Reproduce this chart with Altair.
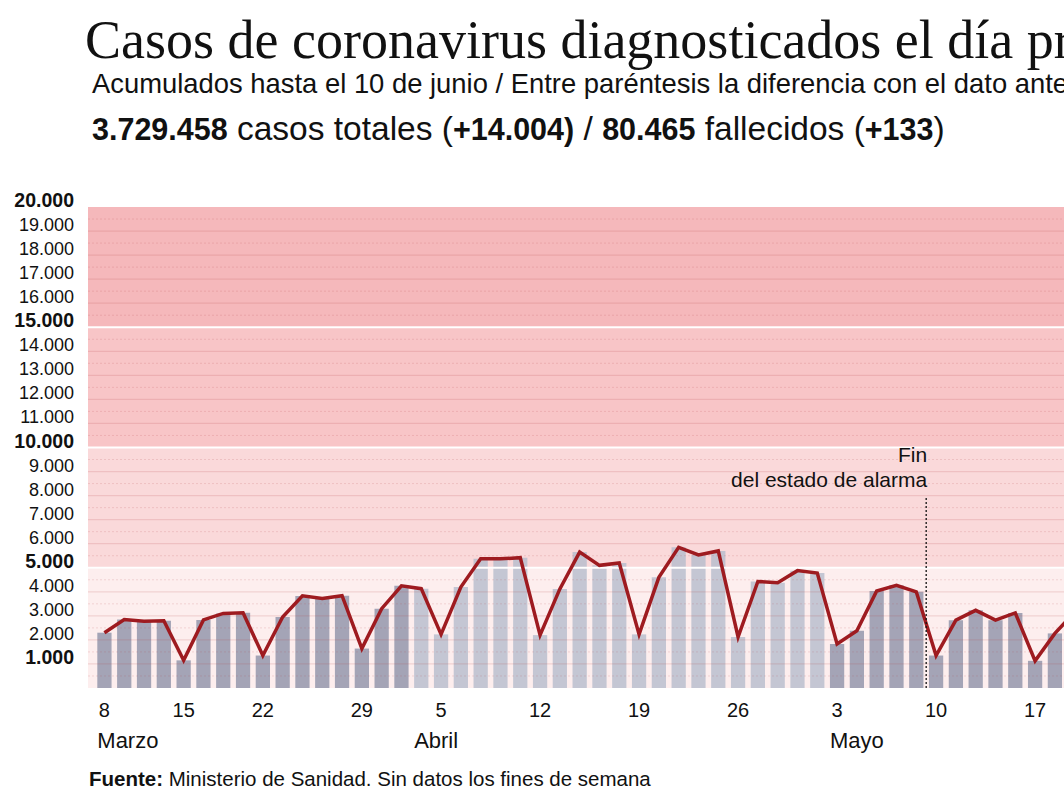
import altair as alt
import pandas as pd

# ---------------- data ----------------
days = [8, 9, 10, 11, 15, 16, 17, 18, 22, 23, 24, 25, 26, 29, 30, 31,
        1, 5, 6, 7, 8, 9, 12, 13, 14, 15, 16, 19, 20, 21, 22, 23, 26, 27, 28, 29, 30,
        3, 4, 5, 6, 7, 10, 11, 12, 13, 14, 17, 18, 19]
months = ["Marzo"] * 16 + ["Abril"] * 21 + ["Mayo"] * 13
casos = [2300, 2850, 2780, 2800, 1150, 2830, 3100, 3130, 1350, 2950, 3830, 3720, 3840, 1640, 3300, 4250,
         4130, 2230, 4200, 5370, 5370, 5420, 2200, 4120, 5650, 5100, 5200, 2230, 4600, 5850, 5530, 5700,
         2120, 4430, 4380, 4880, 4780,
         1830, 2380, 4030, 4270, 4000, 1350, 2820, 3230, 2820, 3120, 1130, 2270, 3150]

y_labels = list(range(1000, 20001, 1000))
y_bold = [1000, 5000, 10000, 15000, 20000]
band_lims = [0, 5000, 10000, 15000, 20000]
band_colors = ["#fdeeee", "#fad9da", "#f8c5c7", "#f5b8bb"]

title = "Casos de coronavirus diagnosticados el día previo"
subtitle = "Acumulados hasta el 10 de junio / Entre paréntesis la diferencia con el dato anterior"
resumen = [("3.729.458", True), (" casos totales (", False), ("+14.004)", True), (" / ", False),
           ("80.465", True), (" fallecidos (", False), ("+133", True), (")", False)]
fuente = [("Fuente:", True), (" Ministerio de Sanidad. Sin datos los fines de semana", False)]
anot_fin = ["Fin", "del estado de alarma"]

# ---------------- derived tables ----------------
month_num = {"Marzo": 3, "Abril": 4, "Mayo": 5}
df = pd.DataFrame({"dia": days, "mes": months, "casos": casos})
df["idx"] = range(len(df))
df["fecha"] = pd.to_datetime(dict(year=2021, month=df["mes"].map(month_num), day=df["dia"]))
df["x0"] = df["idx"] - 0.36
df["x1"] = df["idx"] + 0.36
df["base"] = 0
df["tono"] = df["mes"].map(lambda m: "claro" if m == "Abril" else "oscuro")

ticks = df[df["fecha"].dt.weekday == 0][["idx", "dia"]].copy()
ticks["lab"] = ticks["dia"].astype(str)
mes_lab = df.groupby("mes", sort=False).first().reset_index()[["mes", "x0"]]

bands = pd.DataFrame({"lo": band_lims[:-1], "hi": band_lims[1:], "c": band_colors})
grid_solid = pd.DataFrame({"v": [v for v in y_labels if v < 20000]})
grid_dot = pd.DataFrame({"v": [v + 500 for v in range(0, 20000, 1000)]})
seps = pd.DataFrame({"v": [5000, 10000, 15000]})
ylab_reg = pd.DataFrame({"v": [v for v in y_labels if v not in y_bold]})
ylab_bold = pd.DataFrame({"v": y_bold})
ylab_reg["t"] = ylab_reg["v"].map(lambda v: f"{v:,}".replace(",", "."))
ylab_bold["t"] = ylab_bold["v"].map(lambda v: f"{v:,}".replace(",", "."))

W, H = 976, 481
PAD_L, PAD_T = 88, 207
xs = alt.Scale(domain=[-0.83, 48.46], nice=False, zero=False, padding=0)
ys = alt.Scale(domain=[0, 20000], nice=False, zero=True, padding=0)
FONT = "Liberation Sans"
INK = "#111111"

# Arial / Liberation Sans advance widths (per 1000 em)
REG = {" ": 278, "(": 333, ")": 333, "+": 584, ".": 278, "/": 278, ":": 278}
REG.update({d: 556 for d in "0123456789"})
REG.update(dict(zip("abcdefghijklmnopqrstuvwxyz",
                    [556, 556, 500, 556, 556, 278, 556, 556, 222, 222, 500, 222, 833,
                     556, 556, 556, 556, 333, 500, 278, 556, 500, 722, 500, 500, 500])))
REG.update(dict(zip("ABCDEFGHIJKLMNOPQRSTUVWXYZ",
                    [667, 667, 722, 722, 667, 611, 778, 722, 278, 500, 667, 556, 833,
                     722, 778, 667, 778, 722, 667, 611, 722, 667, 944, 667, 667, 611])))
BOLD = {" ": 278, "(": 333, ")": 333, "+": 584, ".": 278, "/": 278, ":": 333,
        "F": 611, "u": 611, "e": 556, "n": 611, "t": 333}
BOLD.update({d: 556 for d in "0123456789"})


def text_width(s, size, bold):
    table = BOLD if bold else REG
    return sum(table.get(ch, 556) for ch in s) * size / 1000.0


def chain(segments, x_start, y, size_b, size_r):
    layers = []
    x = x_start
    for s, bold in segments:
        size = size_b if bold else size_r
        lead = len(s) - len(s.lstrip(" "))
        xt = x + text_width(" " * lead, size, bold)
        txt = s.strip(" ")
        layers.append(
            alt.Chart(pd.DataFrame({"t": [txt]})).mark_text(
                align="left", baseline="alphabetic", font=FONT, fontSize=size,
                fontWeight="bold" if bold else "normal", color=INK
            ).encode(x=alt.value(xt), y=alt.value(y), text="t:N")
        )
        x += text_width(s, size, bold)
    return layers


# ---------------- layers ----------------
band_layer = alt.Chart(bands).mark_rect().encode(
    y=alt.Y("lo:Q", scale=ys, axis=None), y2="hi:Q",
    x=alt.value(0), x2=alt.value(W),
    color=alt.Color("c:N", scale=None),
)

bar_layer = alt.Chart(df).mark_bar(opacity=0.78).encode(
    x=alt.X("x0:Q", scale=xs, axis=None), x2="x1:Q",
    y=alt.Y("casos:Q", scale=ys, axis=None), y2="base:Q",
    color=alt.Color("tono:N", scale=alt.Scale(domain=["oscuro", "claro"],
                                               range=["#8b8fa6", "#b3bbcc"]), legend=None),
)

solid_layer = alt.Chart(grid_solid).mark_rule(color="#b8454d", opacity=0.17, strokeWidth=1.2).encode(
    y=alt.Y("v:Q", scale=ys, axis=None), x=alt.value(0), x2=alt.value(W))
dot_layer = alt.Chart(grid_dot).mark_rule(color="#b8454d", opacity=0.17, strokeWidth=1,
                                          strokeDash=[2, 2]).encode(
    y=alt.Y("v:Q", scale=ys, axis=None), x=alt.value(0), x2=alt.value(W))
sep_layer = alt.Chart(seps).mark_rule(color="white", strokeWidth=2).encode(
    y=alt.Y("v:Q", scale=ys, axis=None), x=alt.value(0), x2=alt.value(W))

line_layer = alt.Chart(df).mark_line(color="#9e1b20", strokeWidth=3.5, clip=True).encode(
    x=alt.X("idx:Q", scale=xs, axis=None),
    y=alt.Y("casos:Q", scale=ys, axis=None),
)

rule_df = pd.DataFrame({"x": [41.5], "y0": [0], "y1": [7900]})
rule_layer = alt.Chart(rule_df).mark_rule(color="#111", strokeWidth=1.3, strokeDash=[2, 2]).encode(
    x=alt.X("x:Q", scale=xs, axis=None), y=alt.Y("y0:Q", scale=ys, axis=None), y2="y1:Q")

anot_df = pd.DataFrame({"x": [41.5, 41.5], "y": [9650, 8620], "t": anot_fin})
anot_layer = alt.Chart(anot_df).mark_text(align="right", baseline="middle", font=FONT,
                                          fontSize=21, color=INK, dx=1).encode(
    x=alt.X("x:Q", scale=xs, axis=None), y=alt.Y("y:Q", scale=ys, axis=None), text="t:N")

ylab_r = alt.Chart(ylab_reg).mark_text(align="right", baseline="alphabetic", font=FONT,
                                       fontSize=18, color=INK).encode(
    x=alt.value(-14), y=alt.Y("v:Q", scale=ys, axis=None), text="t:N")
ylab_b = alt.Chart(ylab_bold).mark_text(align="right", baseline="alphabetic", font=FONT,
                                        fontSize=19.5, fontWeight="bold", color=INK).encode(
    x=alt.value(-14), y=alt.Y("v:Q", scale=ys, axis=None), text="t:N")

xtick_layer = alt.Chart(ticks).mark_text(align="center", baseline="middle", font=FONT,
                                         fontSize=20, color=INK).encode(
    x=alt.X("idx:Q", scale=xs, axis=None), y=alt.value(H + 23), text="lab:N")
mes_layer = alt.Chart(mes_lab).mark_text(align="left", baseline="middle", font=FONT,
                                         fontSize=22, color=INK).encode(
    x=alt.X("x0:Q", scale=xs, axis=None), y=alt.value(H + 53), text="mes:N")

title_layer = alt.Chart(pd.DataFrame({"t": [title]})).mark_text(
    align="left", baseline="alphabetic", font="Liberation Serif", fontSize=54, color=INK
).encode(x=alt.value(85 - PAD_L), y=alt.value(58 - PAD_T), text="t:N")
sub_layer = alt.Chart(pd.DataFrame({"t": [subtitle]})).mark_text(
    align="left", baseline="alphabetic", font=FONT, fontSize=27.4, color=INK
).encode(x=alt.value(92 - PAD_L), y=alt.value(93 - PAD_T), text="t:N")

resumen_layers = chain(resumen, 92 - PAD_L, 140 - PAD_T, 30.5, 33.5)
fuente_layers = chain(fuente, 89 - PAD_L, 786 - PAD_T, 20.5, 20.5)

chart = alt.layer(
    band_layer, bar_layer, solid_layer, dot_layer, sep_layer, line_layer, rule_layer,
    anot_layer, ylab_r, ylab_b, xtick_layer, mes_layer, title_layer, sub_layer,
    *resumen_layers, *fuente_layers
).properties(
    width=W, height=H,
    padding={"left": PAD_L, "top": PAD_T, "right": 0, "bottom": 800 - PAD_T - H},
    autosize=alt.AutoSizeParams(type="none"),
    background="white",
).configure_view(stroke=None)

chart.save("out.html", embed_options={"renderer": "svg", "actions": False})
